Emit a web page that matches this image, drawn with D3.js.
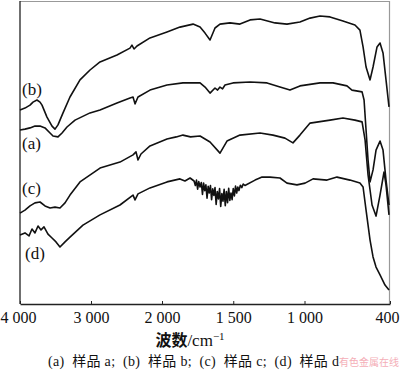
<!DOCTYPE html>
<html>
<head>
<meta charset="utf-8">
<script src="https://cdn.jsdelivr.net/npm/d3@7"></script>
<style>
body { margin: 0; background: #fff; }
</style>
</head>
<body>
<svg id="chart" width="400" height="370"></svg>
<script>
// x ticks (the axis changes scale at 2000 cm-1)
var tickValues = [4000, 3000, 2000, 1500, 1000, 400];
var tickLabels = ["4 000", "3 000", "2 000", "1 500", "1 000", "400"];

// [wavenumber, transmittance (offset, a.u.)]
var sampleB = [[4000,64.7],[3930,65.3],[3859,66.3],[3817,67.3],[3761,68],[3718,67.3],[3690,66.3],
  [3620,62.3],[3549,59.3],[3507,58.3],[3465,59.7],[3394,63.7],[3296,69],[3155,74.7],[3014,78],
  [2873,80.7],[2634,83],[2451,85.3],[2423,86.3],[2394,85],[2352,86],[2169,88.7],[1965,90.7],
  [1874,92.3],[1782,93.3],[1733,92.3],[1698,90.3],[1663,88],[1628,92],[1593,93.3],[1523,93.7],
  [1453,93.3],[1382,94.7],[1312,95],[1207,93.7],[1123,93.3],[1032,94],[961,95.3],[891,96],
  [821,95.7],[730,94.3],[646,93],[611,91.3],[589,85.7],[568,79],[540,74.7],[519,79],[491,85.7],
  [470,87],[449,83.7],[428,74.7],[407,65.7]];

var sampleA = [[4000,58],[3930,58.3],[3859,58.7],[3789,59.3],[3718,59.3],[3648,58.7],[3577,57],
  [3535,56],[3465,55.7],[3408,57],[3338,59],[3225,61.3],[3014,63.7],[2873,64.7],[2634,67],
  [2451,68.7],[2408,69],[2380,66.7],[2338,69],[2169,71.3],[1965,73],[1853,73.7],[1733,73.7],
  [1698,72.3],[1663,70.3],[1628,72],[1610,71.3],[1593,72.3],[1575,71.7],[1558,73],[1502,73.7],
  [1382,74],[1263,73.7],[1172,72.3],[1102,71.3],[1032,72.7],[891,73.7],[800,73.7],[702,72.7],
  [667,71.3],[596,70.7],[582,68],[568,58],[554,48],[540,40.7],[519,44.7],[498,51.3],[470,54.3],
  [449,51.3],[428,41.3],[407,33]];

var sampleC = [[4000,30.3],[3930,31.3],[3859,32.7],[3789,33.7],[3718,34],[3648,32.7],[3577,32],
  [3507,32.3],[3437,32],[3366,33.7],[3296,36.3],[3155,40.7],[2873,45.3],[2592,47.3],[2408,49.7],
  [2366,50.7],[2338,48],[2296,50],[2169,52.7],[1965,55],[1900,55.7],[1853,56.3],[1800,55.7],
  [1733,56],[1663,54],[1593,50.3],[1544,54.3],[1453,56.3],[1312,57],[1221,56.3],[1137,55.3],
  [1081,53.7],[1032,56.3],[961,60.3],[821,61.3],[730,62],[646,61.3],[596,60.7],[575,54.7],
  [554,43],[526,33],[498,29.3],[470,36.3],[442,44],[428,39.7],[407,29.7]];

var sampleD = [[4000,23],[3930,23.7],[3873,22.7],[3831,25],[3789,23.7],[3746,26],[3704,24.7],
  [3662,25.7],[3606,23.3],[3549,22],[3493,20.7],[3437,19],[3366,20.7],[3296,22.3],[3113,26.3],
  [2873,29.7],[2592,33],[2408,36.3],[2380,34.7],[2338,36.7],[2169,38.7],[1965,40.7],[1874,41.7],
  [1839,41],[1803,42],[1775,41],[1766,39.5],[1758,41.3],[1750,38.3],[1742,40.8],[1733,39],
  [1724,40.5],[1716,36.5],[1708,40.3],[1700,37.8],[1692,39.7],[1684,35.3],[1676,39.2],[1668,37],
  [1660,39.5],[1652,34.8],[1644,38.4],[1636,36.2],[1628,38.8],[1620,33.2],[1612,37.5],[1604,35],
  [1596,38.5],[1588,32.5],[1580,36.8],[1572,34.3],[1564,38.2],[1556,32.8],[1548,37.5],[1540,33.8],
  [1532,38.6],[1524,34.5],[1516,37],[1508,34.8],[1500,38.5],[1492,36],[1484,39.3],[1476,37],
  [1468,39],[1460,37.8],[1450,39.6],[1440,38.8],[1430,40],[1418,39.5],[1347,41.3],[1298,42.3],
  [1242,42.3],[1172,42],[1123,40.3],[1053,39.7],[996,40.3],[940,41.7],[842,41.3],[772,42.3],
  [681,41.3],[611,40.3],[589,39],[568,31.3],[540,21.3],[519,15.7],[498,12.3],[470,9.7],
  [435,6.3],[407,4.7]];

var seriesList = [sampleA, sampleB, sampleC, sampleD];

var svg = d3.select("#chart");
var plotLeft = 20, plotRight = 390, plotTop = 1, plotBottom = 304;

var xScale = d3.scaleLinear().domain([4000, 2000, 400]).range([plotLeft, 162, plotRight]);
var yScale = d3.scaleLinear().domain([0, 101]).range([plotBottom, plotTop]);

// frame
svg.append("line").attr("x1", plotLeft).attr("x2", plotRight).attr("y1", plotTop + 0.5).attr("y2", plotTop + 0.5)
  .style("stroke", "#999").style("stroke-width", 1);
svg.append("line").attr("x1", plotRight - 0.5).attr("x2", plotRight - 0.5).attr("y1", plotTop).attr("y2", plotBottom)
  .style("stroke", "#999").style("stroke-width", 1.2);
svg.append("line").attr("x1", plotLeft).attr("x2", plotLeft).attr("y1", plotTop).attr("y2", plotBottom)
  .style("stroke", "#222").style("stroke-width", 1.3);

var serif = "'Liberation Serif', 'Times New Roman', serif";

var xAxis = svg.append("g")
  .attr("transform", "translate(0," + plotBottom + ")")
  .call(d3.axisBottom(xScale)
    .tickValues(tickValues)
    .tickFormat(function(d, i) { return tickLabels[i]; })
    .tickSizeInner(-3).tickSizeOuter(0).tickPadding(8));
xAxis.select(".domain").style("stroke", "#222").style("stroke-width", 1.3);
xAxis.selectAll(".tick line").style("stroke", "#222");
xAxis.selectAll("text")
  .style("font-family", serif)
  .style("font-size", "16px").style("fill", "#111");
// keep the edge labels inside the picture
xAxis.selectAll(".tick text")
  .filter(function(d) { return d === 400; })
  .attr("text-anchor", "end").attr("x", 399 - plotRight);
xAxis.selectAll(".tick text")
  .filter(function(d) { return d === 4000; })
  .attr("text-anchor", "start").attr("x", 0 - plotLeft);

// spectra
var line = d3.line()
  .x(function(d) { return xScale(d[0]); })
  .y(function(d) { return yScale(d[1]); });

svg.append("g").selectAll("path")
  .data(seriesList)
  .enter()
  .append("path")
  .attr("d", line)
  .style("fill", "none")
  .style("stroke", "#111")
  .style("stroke-width", 1.6)
  .style("stroke-linejoin", "round");

// curve labels
[["(b)", 22, 95], ["(a)", 22, 149], ["(c)", 22, 194], ["(d)", 25, 259]].forEach(function(l) {
  svg.append("text").attr("x", l[1]).attr("y", l[2])
    .style("font-family", serif).style("font-size", "17px").style("fill", "#111")
    .text(l[0]);
});

// axis title
var title = svg.append("text")
  .attr("x", 190).attr("y", 346)
  .attr("text-anchor", "middle")
  .style("font-family", serif).style("font-size", "17px").style("fill", "#111");
title.append("tspan").style("font-family", "'Noto Sans CJK SC', sans-serif")
  .style("font-weight", "bold").style("font-size", "16px").text("波数");
title.append("tspan").text("/cm");
title.append("tspan").attr("dy", -6).style("font-size", "11px").text("−1");

// caption
svg.append("text")
  .attr("x", 48).attr("y", 366)
  .attr("textLength", 291).attr("lengthAdjust", "spacing")
  .attr("xml:space", "preserve")
  .style("font-family", "'Liberation Serif', 'Noto Sans CJK SC', serif")
  .style("font-size", "14px").style("fill", "#111")
  .text("(a)  样品 a;  (b)  样品 b;  (c)  样品 c;  (d)  样品 d");

// watermark
svg.append("text")
  .attr("x", 399).attr("y", 366)
  .attr("text-anchor", "end")
  .style("font-family", "'Noto Sans CJK SC', sans-serif")
  .style("font-size", "10px").style("fill", "#f29aa6").style("opacity", 0.8)
  .text("有色金属在线");
</script>
</body>
</html>
